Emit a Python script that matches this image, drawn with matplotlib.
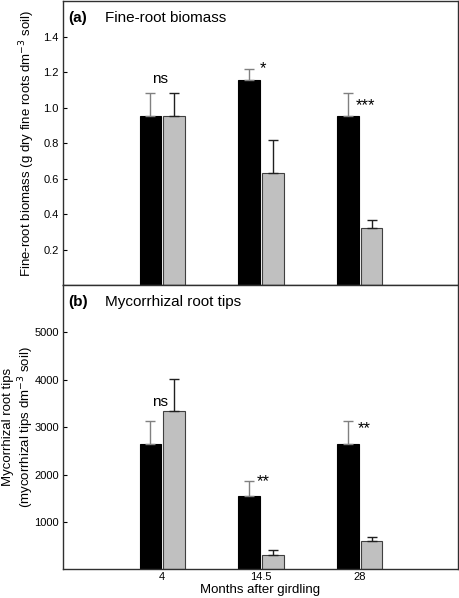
import matplotlib
matplotlib.use("Agg")
import matplotlib.pyplot as plt
import numpy as np

plt.rcParams['font.family'] = ['Liberation Sans', 'DejaVu Sans']

months = ["4", "14.5", "28"]
biomass_control = [0.95, 1.155, 0.95]
biomass_control_err = [0.13, 0.06, 0.13]
biomass_girdled = [0.95, 0.63, 0.32]
biomass_girdled_err = [0.13, 0.185, 0.045]
biomass_sig = ["ns", "*", "***"]

tips_control = [2650, 1550, 2650]
tips_control_err = [480, 320, 480]
tips_girdled = [3350, 300, 610]
tips_girdled_err = [660, 120, 70]
tips_sig = ["ns", "**", "**"]

fig = plt.figure(figsize=(4.6, 5.98), dpi=100)
ax1 = fig.add_axes([0.137, 0.5234, 0.8587, 0.4746])
ax2 = fig.add_axes([0.137, 0.0477, 0.8587, 0.4757])

x = np.arange(1, len(months) + 1)
w = 0.22
xb = x - 0.115
xg = x + 0.125

def panel(ax, ctrl, ctrl_err, gird, gird_err, ymax, yticks, ytlabels, label, title):
    ax.bar(xb, ctrl, w, color='black', edgecolor='black', linewidth=0.8)
    ax.bar(xg, gird, w, color='#c0c0c0', edgecolor='#404040', linewidth=0.8)
    ax.errorbar(xb, ctrl, yerr=[np.zeros(len(ctrl)), ctrl_err], fmt='none',
                ecolor='#808080', elinewidth=1.0, capsize=3.3, capthick=1.0)
    ax.errorbar(xg, gird, yerr=[np.zeros(len(gird)), gird_err], fmt='none',
                ecolor='#202020', elinewidth=1.0, capsize=3.3, capthick=1.0)
    ax.set_xlim(0, 4)
    ax.set_ylim(0, ymax)
    ax.set_yticks(yticks)
    ax.set_yticklabels(ytlabels, fontsize=8)
    ax.tick_params(axis='y', direction='in', length=3, width=0.8, pad=3)
    for s in ax.spines.values():
        s.set_linewidth(1.0)
        s.set_color('#303030')
    ax.text(0.013, 0.965, label, transform=ax.transAxes, fontsize=11,
            fontweight='bold', va='top', ha='left')
    ax.text(0.107, 0.965, title, transform=ax.transAxes, fontsize=11,
            va='top', ha='left')

panel(ax1, biomass_control, biomass_control_err, biomass_girdled,
      biomass_girdled_err, 1.6, [0.2, 0.4, 0.6, 0.8, 1.0, 1.2, 1.4],
      ["0.2", "0.4", "0.6", "0.8", "1.0", "1.2", "1.4"], "(a)", "Fine-root biomass")
panel(ax2, tips_control, tips_control_err, tips_girdled,
      tips_girdled_err, 6000, [1000, 2000, 3000, 4000, 5000],
      ["1000", "2000", "3000", "4000", "5000"], "(b)", "Mycorrhizal root tips")

ax1.set_xticks([])
ax2.set_xticks(x)
ax2.set_xticklabels(months, fontsize=8)
ax2.tick_params(axis='x', length=0, pad=2)
ax2.set_xlabel("Months after girdling", fontsize=9.5, labelpad=1)

ax1.set_ylabel("Fine-root biomass (g dry fine roots dm$^{-3}$ soil)", fontsize=9.5)
ax1.yaxis.set_label_coords(-0.066, 0.5)
ax2.set_ylabel("Mycorrhizal root tips\n(mycorrhizal tips dm$^{-3}$ soil)", fontsize=9.5,
               linespacing=1.15)
ax2.yaxis.set_label_coords(-0.068, 0.5)

# significance labels
ax1.text(x[0] - 0.02, 1.16, biomass_sig[0], ha='center', va='center', fontsize=11)
ax1.text(x[1] + 0.02, 1.22, biomass_sig[1], ha='center', va='center', fontsize=12)
ax1.text(x[2] + 0.06, 1.01, biomass_sig[2], ha='center', va='center', fontsize=12)
ax2.text(x[0] - 0.02, 3530, tips_sig[0], ha='center', va='center', fontsize=11)
ax2.text(x[1] + 0.03, 1850, tips_sig[1], ha='center', va='center', fontsize=12)
ax2.text(x[2] + 0.05, 2980, tips_sig[2], ha='center', va='center', fontsize=12)

fig.savefig("out.png", dpi=100)
